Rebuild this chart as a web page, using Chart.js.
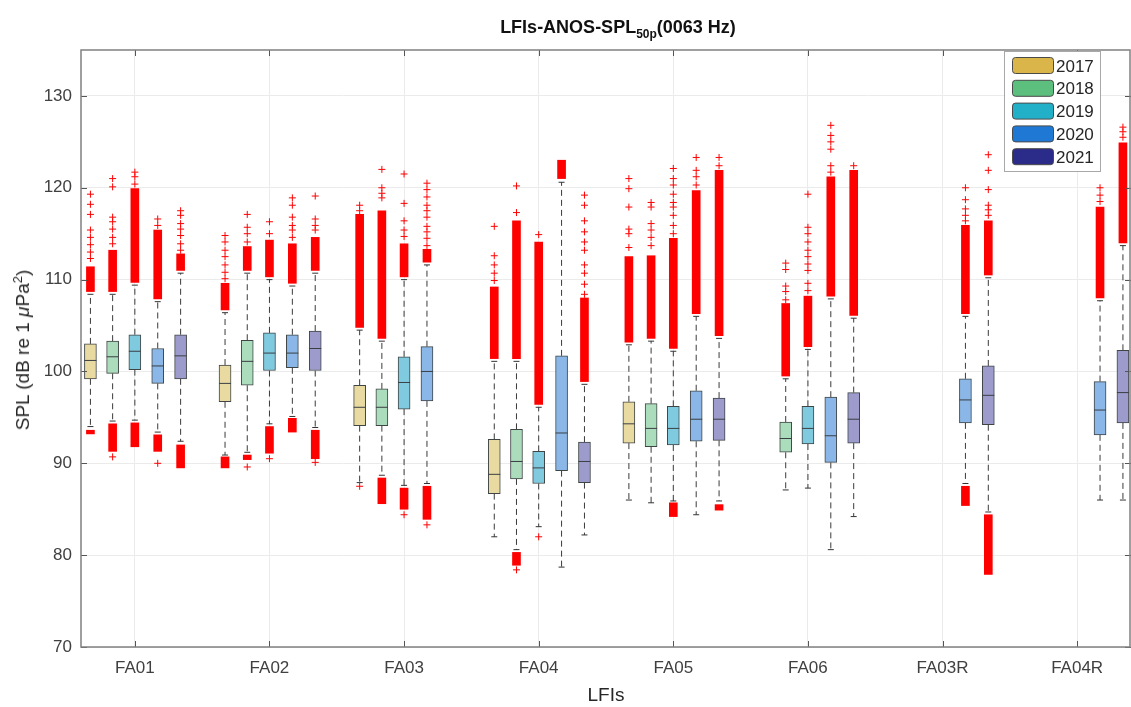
<!DOCTYPE html>
<html>
<head>
<meta charset="utf-8">
<script src="https://cdn.jsdelivr.net/npm/chart.js@4.4.1/dist/chart.umd.min.js"></script>
<style>
  html, body { margin: 0; padding: 0; background: #fff; }
  #wrap { position: relative; width: 1131px; height: 707px; overflow: hidden; }
  #title { position: absolute; top: 17px; left: 0; width: 1236px; text-align: center;
           font: bold 18px "Liberation Sans", Arial, sans-serif; color: #111; white-space: nowrap; }
  #title sub { font-size: 12px; vertical-align: -5px; }
  #ylab { position: absolute; left: 23px; top: 350px; transform: translate(-50%, -50%) rotate(-90deg);
          font: 19px "Liberation Sans", Arial, sans-serif; color: #262626; white-space: nowrap; }
  #ylab sup { font-size: 13px; vertical-align: 7px; line-height: 0; }
</style>
</head>
<body>
<div id="wrap">
  <canvas id="chart" width="1131" height="707"></canvas>
  <div id="title">LFIs-ANOS-SPL<sub>50p</sub>(0063 Hz)</div>
  <div id="ylab">SPL (dB re 1 <i>&mu;</i>Pa<sup>2</sup>)</div>
</div>
<script>
const categories = ['FA01', 'FA02', 'FA03', 'FA04', 'FA05', 'FA06', 'FA03R', 'FA04R'];
const years = ['2017', '2018', '2019', '2020', '2021'];
const yTicks = [70, 80, 90, 100, 110, 120, 130];

// box stats per LFI: [lower whisker, q1, median, q3, upper whisker], null = no data
const box2017 = [[94.0, 99.2, 101.2, 103.0, 108.4], [90.9, 96.7, 98.7, 100.7, 106.4], [87.9, 94.1, 96.1, 98.5, 104.5],
  [82.0, 86.7, 88.8, 92.6, 101.1], [86.0, 92.2, 94.3, 96.7, 102.9], null, null, null];
const box2018 = [[94.6, 99.8, 101.6, 103.3, 108.4], [91.2, 98.5, 101.1, 103.4, 110.7], [88.7, 94.1, 96.1, 98.1, 103.3],
  [80.6, 88.3, 90.2, 93.7, 101.1], [85.7, 91.8, 93.8, 96.5, 103.3], [87.1, 91.2, 92.7, 94.5, 99.2], null, null];
const box2019 = [[94.7, 100.2, 102.2, 104.0, 109.4], [94.3, 100.1, 102.0, 104.2, 110.0], [87.6, 95.9, 98.8, 101.6, 110.0],
  [83.1, 87.8, 89.5, 91.3, 96.1], [85.9, 92.0, 93.8, 96.2, 102.2], [87.3, 92.1, 93.8, 96.2, 102.4], null, null];
const box2020 = [[93.4, 98.7, 100.6, 102.5, 107.6], [95.1, 100.4, 102.0, 104.0, 109.3], [87.8, 96.8, 100.0, 102.7, 111.6],
  [78.7, 89.2, 93.3, 101.7, 120.6], [84.4, 92.4, 94.8, 97.9, 106.0], [80.6, 90.1, 93.0, 97.2, 107.9],
  [87.8, 94.4, 96.9, 99.2, 106.0], [86.0, 93.1, 95.8, 98.9, 107.7]];
const box2021 = [[92.4, 99.2, 101.7, 104.0, 110.7], [93.9, 100.1, 102.5, 104.4, 110.7], null,
  [82.2, 87.9, 90.2, 92.3, 98.6], [85.9, 92.5, 94.8, 97.1, 103.6], [84.2, 92.2, 94.8, 97.7, 105.8],
  [84.7, 94.2, 97.4, 100.6, 110.2], [86.0, 94.4, 97.7, 102.3, 113.7]];

// dense runs of outliers above the upper whisker [from, to]
const upBand2017 = [[108.7, 111.4], [106.7, 109.6], [104.8, 117.1], [101.4, 109.2], [103.2, 112.5], null, null, null];
const upBand2018 = [[108.7, 113.2], [111.0, 113.6], [103.6, 117.5], [101.4, 116.4], [103.6, 112.6], [99.5, 107.4], null, null];
const upBand2019 = [[109.7, 119.9], [110.3, 114.3], [110.3, 113.9], [96.4, 114.1], [102.5, 114.5], [102.7, 108.2], null, null];
const upBand2020 = [[107.9, 115.4], [109.6, 113.9], [111.9, 113.3], [121.0, 123.0], [106.3, 119.7], [108.2, 121.2], [106.3, 115.9], [108.0, 117.9]];
const upBand2021 = [[111.0, 112.8], [111.0, 114.6], null, [98.9, 108.0], [103.9, 121.9], [106.1, 121.9], [110.5, 116.4], [114.0, 124.9]];

// single outliers above the dense run
const upOut2017 = [[112.3, 113.0, 113.8, 114.6, 115.4, 117.1, 118.2, 119.3], [110.1, 110.8, 111.6, 112.5, 113.2, 114.1, 114.8],
  [117.5, 118.1], [109.9, 110.7, 111.6, 112.6, 115.8], [113.5, 115.0, 115.5, 117.9, 119.9, 121.0], [], [], []];
const upOut2018 = [[113.9, 114.6, 115.5, 116.3, 116.8, 120.1, 121.0], [114.1, 115.0, 115.7, 117.1], [118.9, 119.4, 120.0, 122.0],
  [117.3, 120.2], [113.7, 114.6, 115.4, 116.1, 117.9, 118.4], [107.8, 108.7, 109.3, 111.1, 111.8], [], []];
const upOut2019 = [[120.4, 121.2, 121.7], [115.0, 116.3], [114.7, 115.4, 116.4, 118.3, 121.5], [114.9],
  [115.0, 115.9, 117.0, 117.9, 118.4, 119.3, 120.3, 121.0, 122.1],
  [108.8, 109.6, 111.0, 111.7, 112.5, 113.2, 114.1, 115.0, 115.7, 119.3], [], []];
const upOut2020 = [[115.9, 116.6], [114.6, 115.4, 115.9, 116.8, 118.1, 118.9],
  [113.7, 114.5, 115.2, 115.8, 116.8, 117.5, 118.1, 119.0, 119.8, 120.5], [], [120.3, 121.2, 121.9, 123.3],
  [121.7, 122.4, 124.2, 125.0, 125.7, 126.8], [116.4, 117.0, 117.7, 118.7, 120.0], [118.5, 119.2, 120.0]];
const upOut2021 = [[113.2, 113.9, 114.8, 115.5, 116.1, 117.0, 117.5], [115.4, 115.9, 116.6, 119.1], [],
  [108.4, 109.5, 110.7, 111.6, 113.2, 114.1, 115.2, 116.4, 118.1, 119.2], [122.4, 123.3], [122.4],
  [117.0, 117.6, 118.1, 119.8, 121.9, 123.6], [125.5, 126.1, 126.6]];

// dense runs and single outliers below the lower whisker
const lowBand2017 = [[93.2, 93.6], [89.5, 90.7], null, null, null, null, null, null];
const lowBand2018 = [[91.3, 94.3], [90.4, 90.9], [85.6, 88.4], [78.9, 80.3], null, null, null, null];
const lowBand2019 = [[91.8, 94.4], [91.1, 94.0], [85.0, 87.3], null, [84.2, 85.7], null, null, null];
const lowBand2020 = [[91.3, 93.1], [93.4, 94.9], [83.9, 87.5], null, null, null, [85.4, 87.5], null];
const lowBand2021 = [[89.5, 92.0], [90.5, 93.6], null, null, [84.9, 85.5], null, [77.9, 84.4], null];
const lowOut2017 = [[], [], [87.5], [], [], [], [], []];
const lowOut2018 = [[90.7], [89.6], [], [78.4], [], [], [], []];
const lowOut2019 = [[], [90.5], [84.4], [82.0], [], [], [], []];
const lowOut2020 = [[90.0], [], [83.3], [], [], [], [], []];
const lowOut2021 = [[], [90.1], [], [], [], [], [], []];

const boxes = [box2017, box2018, box2019, box2020, box2021];
const upBands = [upBand2017, upBand2018, upBand2019, upBand2020, upBand2021];
const upOuts = [upOut2017, upOut2018, upOut2019, upOut2020, upOut2021];
const lowBands = [lowBand2017, lowBand2018, lowBand2019, lowBand2020, lowBand2021];
const lowOuts = [lowOut2017, lowOut2018, lowOut2019, lowOut2020, lowOut2021];

const offsets = [-0.33, -0.165, 0, 0.17, 0.34];
const boxFill = ['#e9daa2', '#abdcbb', '#80cadf', '#8ab7e8', '#9c9bcb'];
const legendFill = ['#d9b54a', '#5cbf7d', '#22afc8', '#1f78d3', '#2b2b8a'];
const FONT = '"Liberation Sans", Arial, sans-serif';

const boxSets = years.map((yr, k) => ({
    type: 'bar',
    label: yr,
    legendColor: legendFill[k],
    data: boxes[k].map((b, i) => b && {x: i + 1 + offsets[k], y: [b[1], b[3]]}).filter(Boolean),
    backgroundColor: boxFill[k],
    borderColor: '#3f4545',
    borderWidth: 1,
    borderSkipped: false,
    grouped: false,
    categoryPercentage: 1,
    barPercentage: 1,
    maxBarThickness: 12,
    order: 3,
}));

const whisk = [], caps = [], meds = [], bands = [], outs = [];
years.forEach((yr, k) => {
    boxes[k].forEach((b, i) => {
        if (!b) return;
        const x = i + 1 + offsets[k];
        whisk.push({x, y: b[3]}, {x, y: b[4]}, {x, y: null}, {x, y: b[1]}, {x, y: b[0]}, {x, y: null});
        caps.push({x, y: b[0]}, {x, y: b[4]});
        meds.push({x, y: b[2]});
        if (upBands[k][i]) bands.push({x, y: upBands[k][i]});
        if (lowBands[k][i]) bands.push({x, y: lowBands[k][i]});
        upOuts[k][i].concat(lowOuts[k][i]).forEach(v => outs.push({x, y: v}));
    });
});

const frame = {
    id: 'frame',
    afterDraw(chart) {
        const {ctx, chartArea: a, scales} = chart;
        ctx.save();
        ctx.strokeStyle = '#555';
        ctx.lineWidth = 1;
        scales.y.ticks.forEach(t => {
            const y = Math.round(scales.y.getPixelForValue(t.value)) + 0.5;
            ctx.beginPath();
            ctx.moveTo(a.left, y); ctx.lineTo(a.left + 6, y);
            ctx.moveTo(a.right, y); ctx.lineTo(a.right - 6, y);
            ctx.stroke();
        });
        scales.x.ticks.forEach(t => {
            const x = Math.round(scales.x.getPixelForValue(t.value)) + 0.5;
            ctx.beginPath();
            ctx.moveTo(x, a.bottom); ctx.lineTo(x, a.bottom - 6);
            ctx.moveTo(x, a.top); ctx.lineTo(x, a.top + 6);
            ctx.stroke();
        });
        ctx.strokeStyle = '#808080';
        ctx.lineWidth = 1.5;
        ctx.strokeRect(a.left, a.top, a.right - a.left - 1, a.bottom - a.top);

        // legend box in the upper right corner
        const items = chart.data.datasets.filter(d => d.legendColor);
        const rowH = 22.8, x0 = a.right - 127, y0 = a.top + 1, w = 96, h = items.length * rowH + 6;
        ctx.fillStyle = '#fff';
        ctx.fillRect(x0, y0, w, h);
        ctx.strokeStyle = '#a8a8a8';
        ctx.lineWidth = 1;
        ctx.strokeRect(x0 + 0.5, y0 + 0.5, w, h);
        ctx.font = '17px ' + FONT;
        ctx.textBaseline = 'middle';
        items.forEach((d, k) => {
            const cy = y0 + 15 + k * rowH;
            ctx.fillStyle = d.legendColor;
            ctx.strokeStyle = '#4a4a4a';
            ctx.beginPath();
            ctx.roundRect(x0 + 8.5, cy - 8.5, 41, 16, 3);
            ctx.fill();
            ctx.stroke();
            ctx.fillStyle = '#262626';
            ctx.fillText(d.label, x0 + 52, cy + 1);
        });
        ctx.restore();
    },
};

new Chart(document.getElementById('chart'), {
    type: 'bar',
    data: {
        datasets: [
            ...boxSets,
            {
                type: 'line', label: 'whiskers', data: whisk,
                borderColor: '#3a3a3a', borderWidth: 1, borderDash: [6, 4],
                pointRadius: 0, spanGaps: false, fill: false, order: 5,
            },
            {
                type: 'scatter', label: 'caps', data: caps,
                pointStyle: 'line', pointRadius: 3, borderColor: '#333', borderWidth: 1, order: 4,
            },
            {
                type: 'scatter', label: 'medians', data: meds,
                pointStyle: 'line', pointRadius: 6, borderColor: '#3a3f44', borderWidth: 1, order: 2,
            },
            {
                type: 'bar', label: 'outlier runs', data: bands,
                backgroundColor: '#ff0000', borderWidth: 0, grouped: false,
                categoryPercentage: 1, barPercentage: 1, maxBarThickness: 8, order: 1,
            },
            {
                type: 'scatter', label: 'outliers', data: outs,
                pointStyle: 'cross', pointRadius: 3.5, borderColor: '#ff0000', borderWidth: 1, order: 0,
            },
        ],
    },
    options: {
        responsive: false,
        animation: false,
        devicePixelRatio: 1,
        events: [],
        layout: {autoPadding: false, padding: {top: 50, left: 0, right: 0, bottom: 0}},
        plugins: {legend: {display: false}, tooltip: {enabled: false}},
        scales: {
            x: {
                type: 'linear',
                min: 0.6,
                max: 8.4,
                offset: false,
                afterBuildTicks: (s) => { s.ticks = categories.map((c, i) => ({value: i + 1})); },
                afterFit: (s) => { s.height = 60; s.paddingLeft = 0; s.paddingRight = 0; },
                grid: {color: '#ebebeb', drawTicks: false, offset: false},
                border: {display: false},
                ticks: {
                    padding: 11,
                    color: '#404040',
                    font: {family: FONT, size: 17},
                    callback: (v) => categories[Math.round(v) - 1],
                },
                title: {
                    display: true, text: 'LFIs', color: '#262626',
                    font: {family: FONT, size: 19}, padding: {top: 0, bottom: 0},
                },
            },
            y: {
                min: 70,
                max: 135,
                afterBuildTicks: (s) => { s.ticks = yTicks.map(v => ({value: v})); },
                afterFit: (s) => { s.width = 81; s.paddingTop = 0; s.paddingBottom = 0; },
                grid: {color: '#ebebeb', drawTicks: false},
                border: {display: false},
                ticks: {padding: 9, color: '#404040', font: {family: FONT, size: 17}},
            },
        },
    },
    plugins: [frame],
});
</script>
</body>
</html>
